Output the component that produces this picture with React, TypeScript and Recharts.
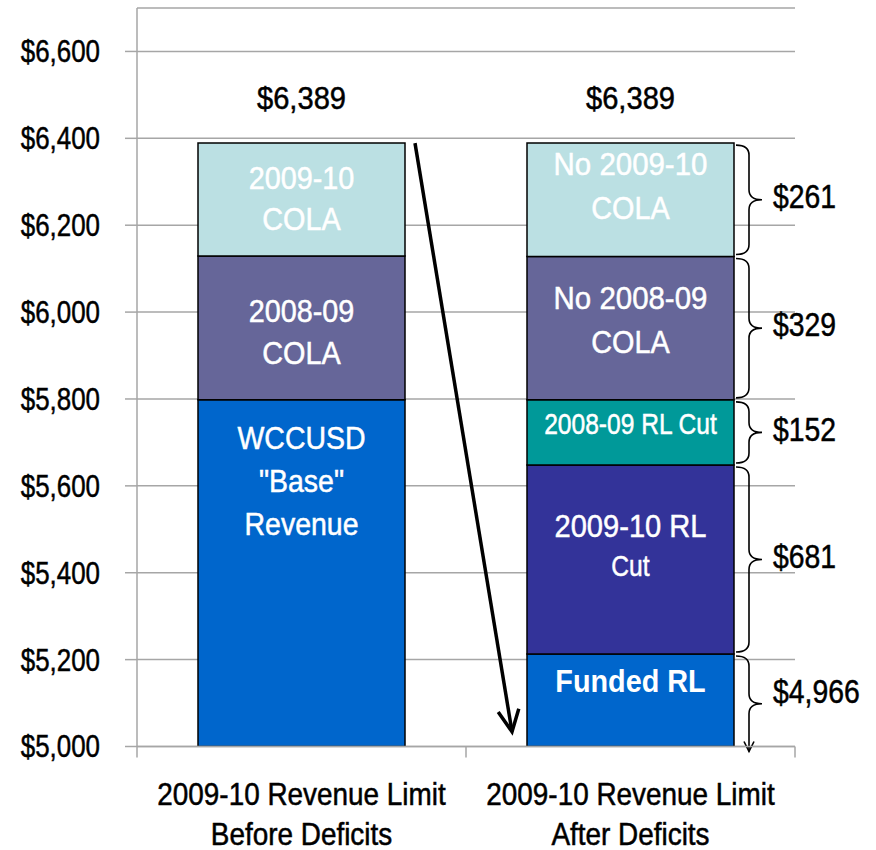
import { Bar, BarChart, CartesianGrid, LabelList, ReferenceArea, XAxis, YAxis } from "recharts";

const categories = ["2009-10 Revenue Limit\nBefore Deficits", "2009-10 Revenue Limit\nAfter Deficits"];
// bottom segment: WCCUSD base (left) / funded RL (right), drawn from 0 and cut by the axis
const baseRevenue = [5798, 5213];
const cut0910 = [0, 435];
const cut0809 = [0, 150];
const cola0809 = [331, 330];
const cola0910 = [260, 261];
const totalLabels = ["$6,389", "$6,389"];
const yTicks = [5000, 5200, 5400, 5600, 5800, 6000, 6200, 6400, 6600];
const braceLabels = ["$4,966", "$681", "$152", "$329", "$261"];

const segmentText: Record<string, string[]> = {
  base: ['WCCUSD\n"Base"\nRevenue', "Funded RL"],
  cut0910: ["", "2009-10 RL\nCut"],
  cut0809: ["", "2008-09 RL Cut"],
  cola0809: ["2008-09\nCOLA", "No 2008-09\nCOLA"],
  cola0910: ["2009-10\nCOLA", "No 2009-10\nCOLA"],
};

const SERIES = [
  { key: "base", color: "#0066CC" },
  { key: "cut0910", color: "#333399" },
  { key: "cut0809", color: "#009999" },
  { key: "cola0809", color: "#666699" },
  { key: "cola0910", color: "#BBE0E3" },
];

type Lay = { dy: number; gap: number; sizes: number[]; sx: number[]; weight?: number };
// first-line offset from segment top, line gap, font size and horizontal squeeze per line
const labelLayout: Record<string, Lay[]> = {
  base: [
    { dy: 38, gap: 43, sizes: [32, 32, 32], sx: [0.89, 0.89, 0.89] },
    { dy: 26, gap: 0, sizes: [32], sx: [0.9], weight: 700 },
  ],
  cut0910: [
    { dy: 0, gap: 0, sizes: [], sx: [] },
    { dy: 60, gap: 41, sizes: [32, 30], sx: [0.91, 0.82] },
  ],
  cut0809: [
    { dy: 0, gap: 0, sizes: [], sx: [] },
    { dy: 24, gap: 0, sizes: [30], sx: [0.82] },
  ],
  cola0809: [
    { dy: 54, gap: 42, sizes: [32, 32], sx: [0.9, 0.9] },
    { dy: 42, gap: 43, sizes: [32, 32], sx: [0.92, 0.9] },
  ],
  cola0910: [
    { dy: 34, gap: 41, sizes: [32, 32], sx: [0.9, 0.9] },
    { dy: 21, gap: 43, sizes: [32, 32], sx: [0.92, 0.9] },
  ],
};

const data = categories.map((name, i) => ({
  name,
  base: baseRevenue[i],
  cut0910: cut0910[i],
  cut0809: cut0809[i],
  cola0809: cola0809[i],
  cola0910: cola0910[i],
}));

const FONT = "'Liberation Sans', Arial, sans-serif";
const GRID = "#A6A6A6";
const BAR = 207;
const Y_MIN = 5000;
const W = 876;
const H = 850;
const M = { top: 8, right: 81, bottom: 3.5, left: 7 };
const Y_AXIS_W = 130;
const PLOT_MID = M.left + Y_AXIS_W + (W - M.left - Y_AXIS_W - M.right) / 2;

// right-bar stack boundaries for the braces
const rightSegs = SERIES.map((s) => (data[1] as any)[s.key] as number);
const braceSpans = rightSegs.map((v, i) => {
  const lo = rightSegs.slice(0, i).reduce((a, b) => a + b, 0);
  return [Math.max(lo, Y_MIN), lo + v];
});

// Arial squeezed horizontally, close to Arial Narrow
function NText(p: {
  x: number;
  y: number;
  size: number;
  sx: number;
  anchor?: "start" | "middle" | "end";
  fill?: string;
  weight?: number;
  children: string;
}) {
  const fill = p.fill ?? "#000";
  const bold = (p.weight ?? 400) >= 700;
  return (
    <text
      transform={`translate(${p.x},${p.y}) scale(${p.sx},1)`}
      x={0}
      y={0}
      textAnchor={p.anchor ?? "middle"}
      dominantBaseline="central"
      fill={fill}
      stroke={bold ? "none" : fill}
      strokeWidth={0.5}
      fontFamily={FONT}
      fontSize={p.size}
      fontWeight={p.weight ?? 400}
    >
      {p.children}
    </text>
  );
}

function segmentLabel(key: string) {
  return (props: any) => {
    const vb = props.viewBox ?? props;
    const { x, y, width } = vb;
    const idx = x + width / 2 > PLOT_MID ? 1 : 0;
    const text = segmentText[key][idx];
    if (!text) return null;
    const lay = labelLayout[key][idx];
    const cx = x + width / 2;
    return (
      <g>
        {text.split("\n").map((line, li) => (
          <NText
            key={li}
            x={cx}
            y={y + lay.dy + li * lay.gap}
            size={lay.sizes[li]}
            sx={lay.sx[li]}
            fill="#fff"
            weight={lay.weight}
          >
            {line}
          </NText>
        ))}
      </g>
    );
  };
}

function totalLabel(props: any) {
  const vb = props.viewBox ?? props;
  const { x, y, width } = vb;
  const idx = x + width / 2 > PLOT_MID ? 1 : 0;
  return (
    <NText x={x + width / 2} y={y - 46} size={32} sx={0.91}>
      {totalLabels[idx]}
    </NText>
  );
}

function YTick(props: any) {
  const { x, y, payload } = props;
  return (
    <NText x={x} y={y} size={32} sx={0.81} anchor="end">
      {"$" + Number(payload.value).toLocaleString("en-US")}
    </NText>
  );
}

function CategoryTick(props: any) {
  const { x, y, payload, index, visibleTicksCount } = props;
  const half = payload.offset || 164.5;
  const lines = String(payload.value).split("\n");
  const last = index === (visibleTicksCount ?? categories.length) - 1;
  return (
    <g>
      <line x1={x - half} y1={y} x2={x - half} y2={y + 11} stroke={GRID} strokeWidth={1.5} />
      {last && <line x1={x + half} y1={y} x2={x + half} y2={y + 11} stroke={GRID} strokeWidth={1.5} />}
      {lines.map((l, i) => (
        <NText key={i} x={x} y={y + 47 + i * 40} size={31} sx={0.9}>
          {l}
        </NText>
      ))}
    </g>
  );
}

function braceShape(label: string, arrow: boolean) {
  return (props: any) => {
    const { x, y, width, height } = props;
    const x0 = x + width * 0.75 + BAR / 2 + 2;
    const sx = x0 + 13;
    const tx = x0 + 26;
    const top = y + 2;
    const bot = arrow ? y + height + 5 : y + height - 2;
    const mid = (top + bot) / 2;
    const r = Math.min(10, (bot - top) / 4);
    const d = arrow
      ? `M${x0},${top} Q${sx},${top} ${sx},${top + r} L${sx},${mid - r} Q${sx},${mid} ${tx},${mid} Q${sx},${mid} ${sx},${mid + r} L${sx},${bot}`
      : `M${x0},${top} Q${sx},${top} ${sx},${top + r} L${sx},${mid - r} Q${sx},${mid} ${tx},${mid} Q${sx},${mid} ${sx},${mid + r} L${sx},${bot - r} Q${sx},${bot} ${x0},${bot}`;
    return (
      <g>
        <path d={d} fill="none" stroke="#000" strokeWidth={1.6} />
        {arrow && (
          <path d={`M${sx - 5},${bot - 10} L${sx},${bot} L${sx + 5},${bot - 10}`} fill="none" stroke="#000" strokeWidth={1.6} />
        )}
        <NText x={tx + 11} y={mid - (arrow ? 12 : 3)} size={33} sx={0.86} anchor="start">
          {label}
        </NText>
      </g>
    );
  };
}

function arrowShape(props: any) {
  const { x, y, width, height } = props;
  const x1 = x + width * 0.25 + BAR / 2 + 10;
  const x2 = x + width * 0.75 - BAR / 2 - 15;
  const y1 = y;
  const y2 = y + height;
  const ang = Math.atan2(y2 - y1, x2 - x1);
  const len = 24;
  const spread = 0.45;
  const a1x = x2 - len * Math.cos(ang - spread);
  const a1y = y2 - len * Math.sin(ang - spread);
  const a2x = x2 - len * Math.cos(ang + spread);
  const a2y = y2 - len * Math.sin(ang + spread);
  return (
    <g>
      <line x1={x1} y1={y1} x2={x2} y2={y2} stroke="#000" strokeWidth={3.5} />
      <path d={`M${a1x},${a1y} L${x2},${y2} L${a2x},${a2y}`} fill="none" stroke="#000" strokeWidth={3.5} />
    </g>
  );
}

export default function App() {
  return (
    <div style={{ position: "absolute", left: 0, top: 0, width: W, height: H, background: "#fff" }}>
      <BarChart width={W} height={H} data={data} margin={M} barSize={BAR}>
        <CartesianGrid vertical={false} stroke={GRID} strokeWidth={1.5} />
        <XAxis
          dataKey="name"
          height={100}
          axisLine={{ stroke: GRID, strokeWidth: 1.5 }}
          tickLine={false}
          tickSize={0}
          tickMargin={0}
          interval={0}
          tick={<CategoryTick />}
        />
        <YAxis
          width={Y_AXIS_W}
          domain={[Y_MIN, 6700]}
          ticks={yTicks}
          allowDataOverflow
          axisLine={{ stroke: GRID, strokeWidth: 1.5 }}
          tickLine={{ stroke: GRID, strokeWidth: 1.5 }}
          tickSize={12}
          tickMargin={25}
          tick={<YTick />}
        />
        {SERIES.map((s, si) => (
          <Bar
            key={s.key}
            dataKey={s.key}
            stackId="a"
            fill={s.color}
            stroke="#000"
            strokeWidth={1.5}
            isAnimationActive={false}
          >
            <LabelList dataKey={s.key} content={segmentLabel(s.key)} />
            {si === SERIES.length - 1 && <LabelList dataKey={s.key} content={totalLabel} />}
          </Bar>
        ))}
        {braceSpans.map(([lo, hi], i) => (
          <ReferenceArea key={i} y1={lo} y2={hi} shape={braceShape(braceLabels[i], i === 0)} />
        ))}
        <ReferenceArea y1={5034} y2={6389} shape={arrowShape} />
      </BarChart>
    </div>
  );
}
